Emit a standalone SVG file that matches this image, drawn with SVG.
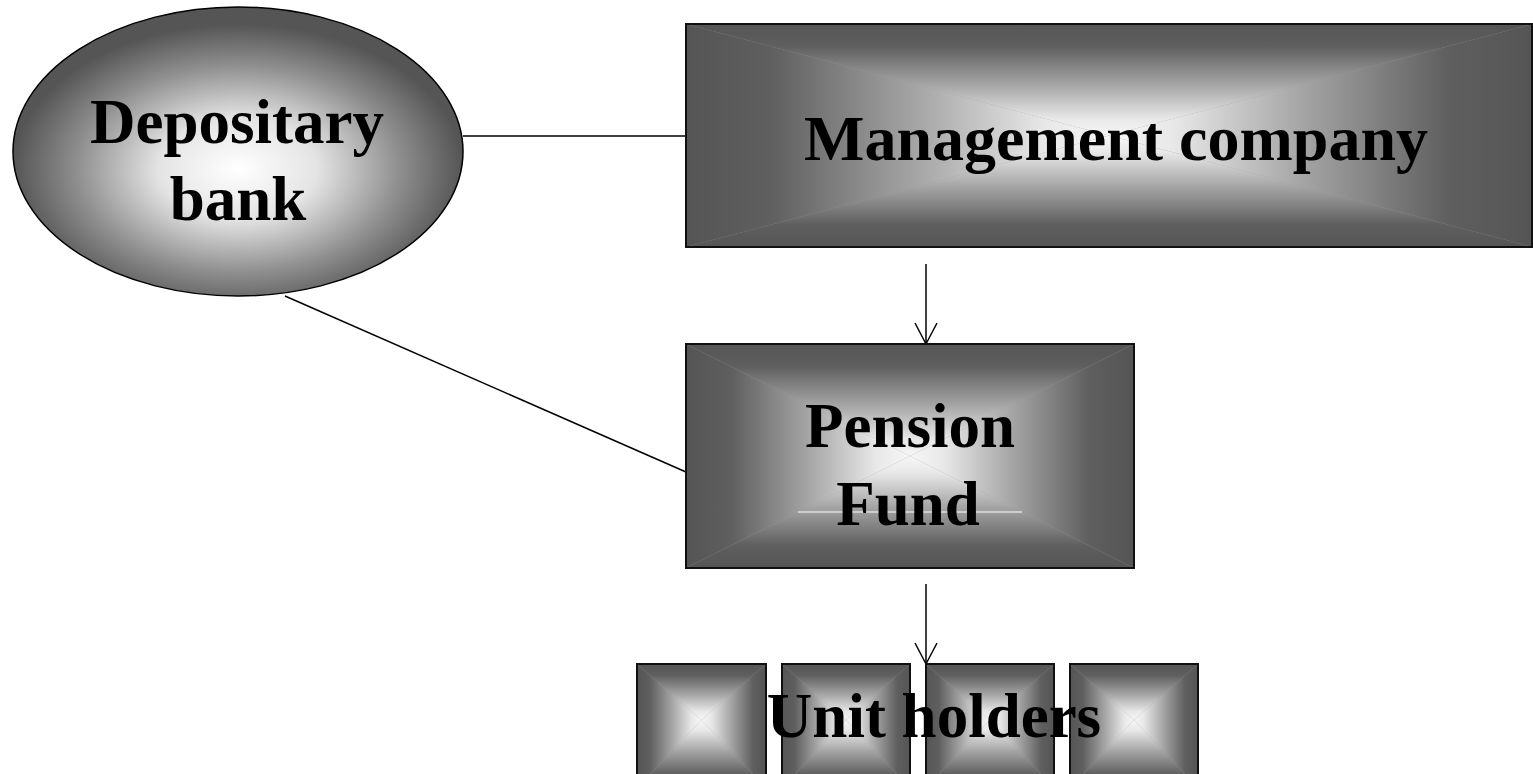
<svg xmlns="http://www.w3.org/2000/svg" width="1533" height="774" viewBox="0 0 1533 774">
  <style>
    .lbl { font-family: "Liberation Serif", "Times New Roman", serif; font-weight: bold; font-size: 63px; fill: #000; text-anchor: middle; }
    .edge { stroke: #000; stroke-width: 1.5; fill: none; }
    .frame { fill: none; stroke: #111; stroke-width: 2; }
    .base { fill: #9a9a9a; }
    .t { fill: url(#gT); }
    .b { fill: url(#gB); }
    .l { fill: url(#gL); }
    .r { fill: url(#gR); }
  </style>
  <defs>
    <radialGradient id="gE" cx="0.5" cy="0.56" r="0.5">
      <stop offset="0" stop-color="#ffffff"/>
      <stop offset="0.35" stop-color="#e4e4e4"/>
      <stop offset="0.72" stop-color="#8e8e8e"/>
      <stop offset="1" stop-color="#555555"/>
    </radialGradient>
    <linearGradient id="gT" x1="0" y1="0" x2="0" y2="1">
      <stop offset="0" stop-color="#555555"/>
      <stop offset="0.2" stop-color="#5f5f5f"/>
      <stop offset="0.55" stop-color="#a6a6a6"/>
      <stop offset="0.85" stop-color="#e8e8e8"/>
      <stop offset="1" stop-color="#f6f6f6"/>
    </linearGradient>
    <linearGradient id="gB" x1="0" y1="1" x2="0" y2="0">
      <stop offset="0" stop-color="#555555"/>
      <stop offset="0.2" stop-color="#5f5f5f"/>
      <stop offset="0.55" stop-color="#a6a6a6"/>
      <stop offset="0.85" stop-color="#e8e8e8"/>
      <stop offset="1" stop-color="#f6f6f6"/>
    </linearGradient>
    <linearGradient id="gL" x1="0" y1="0" x2="1" y2="0">
      <stop offset="0" stop-color="#555555"/>
      <stop offset="0.2" stop-color="#5f5f5f"/>
      <stop offset="0.55" stop-color="#a6a6a6"/>
      <stop offset="0.85" stop-color="#e8e8e8"/>
      <stop offset="1" stop-color="#f6f6f6"/>
    </linearGradient>
    <linearGradient id="gR" x1="1" y1="0" x2="0" y2="0">
      <stop offset="0" stop-color="#555555"/>
      <stop offset="0.2" stop-color="#5f5f5f"/>
      <stop offset="0.55" stop-color="#a6a6a6"/>
      <stop offset="0.85" stop-color="#e8e8e8"/>
      <stop offset="1" stop-color="#f6f6f6"/>
    </linearGradient>
  </defs>

  <g id="connectors">
    <line class="edge" x1="463" y1="136" x2="686" y2="136"/>
    <line class="edge" x1="285" y1="296" x2="686" y2="472"/>
    <line class="edge" x1="926" y1="264" x2="926" y2="343"/>
    <polyline class="edge" points="915,323 926,344 937,323"/>
    <line class="edge" x1="926" y1="584" x2="926" y2="663"/>
    <polyline class="edge" points="915,643 926,664 937,643"/>
  </g>

  <g id="depositary-bank">
    <ellipse cx="238" cy="151.5" rx="225" ry="144.5" fill="url(#gE)" stroke="#000" stroke-width="1.5"/>
    <text class="lbl" x="237" y="143">Depositary</text>
    <text class="lbl" x="238" y="220">bank</text>
  </g>

  <g id="management-company">
    <rect class="base" x="686" y="24" width="846" height="223"/>
    <polygon class="t" points="686,24 1533,24 1109,135.5"/>
    <polygon class="b" points="686,247 1533,247 1109,135.5"/>
    <polygon class="l" points="686,24 686,247 1109,135.5"/>
    <polygon class="r" points="1533,24 1533,247 1109,135.5"/>
    <rect class="frame" x="686" y="24" width="846" height="223"/>
    <text class="lbl" x="1116" y="160" style="font-size:64px">Management company</text>
  </g>

  <g id="pension-fund">
    <rect class="base" x="686" y="344" width="448" height="224"/>
    <polygon class="t" points="686,344 1134,344 910,456"/>
    <polygon class="b" points="686,568 1134,568 910,456"/>
    <polygon class="l" points="686,344 686,568 910,456"/>
    <polygon class="r" points="1134,344 1134,568 910,456"/>
    <rect class="frame" x="686" y="344" width="448" height="224"/>
    <line x1="798" y1="512" x2="1022" y2="512" stroke="#ffffff" stroke-width="1"/>
    <text class="lbl" x="910" y="447">Pension</text>
    <text class="lbl" x="908" y="525">Fund</text>
  </g>

  <g id="unit-holders">
    <g id="unit-1">
      <rect class="base" x="637" y="664" width="129" height="124"/>
      <polygon class="t" points="637,664 766,664 701.5,720"/>
      <polygon class="b" points="637,788 766,788 701.5,720"/>
      <polygon class="l" points="637,664 637,788 701.5,720"/>
      <polygon class="r" points="766,664 766,788 701.5,720"/>
      <rect class="frame" x="637" y="664" width="129" height="124"/>
    </g>
    <g id="unit-2">
      <rect class="base" x="782" y="664" width="128" height="124"/>
      <polygon class="t" points="782,664 910,664 846,720"/>
      <polygon class="b" points="782,788 910,788 846,720"/>
      <polygon class="l" points="782,664 782,788 846,720"/>
      <polygon class="r" points="910,664 910,788 846,720"/>
      <rect class="frame" x="782" y="664" width="128" height="124"/>
    </g>
    <g id="unit-3">
      <rect class="base" x="926" y="664" width="128" height="124"/>
      <polygon class="t" points="926,664 1054,664 990,720"/>
      <polygon class="b" points="926,788 1054,788 990,720"/>
      <polygon class="l" points="926,664 926,788 990,720"/>
      <polygon class="r" points="1054,664 1054,788 990,720"/>
      <rect class="frame" x="926" y="664" width="128" height="124"/>
    </g>
    <g id="unit-4">
      <rect class="base" x="1070" y="664" width="128" height="124"/>
      <polygon class="t" points="1070,664 1198,664 1134,720"/>
      <polygon class="b" points="1070,788 1198,788 1134,720"/>
      <polygon class="l" points="1070,664 1070,788 1134,720"/>
      <polygon class="r" points="1198,664 1198,788 1134,720"/>
      <rect class="frame" x="1070" y="664" width="128" height="124"/>
    </g>
    <text class="lbl" x="934" y="737">Unit holders</text>
  </g>
</svg>
